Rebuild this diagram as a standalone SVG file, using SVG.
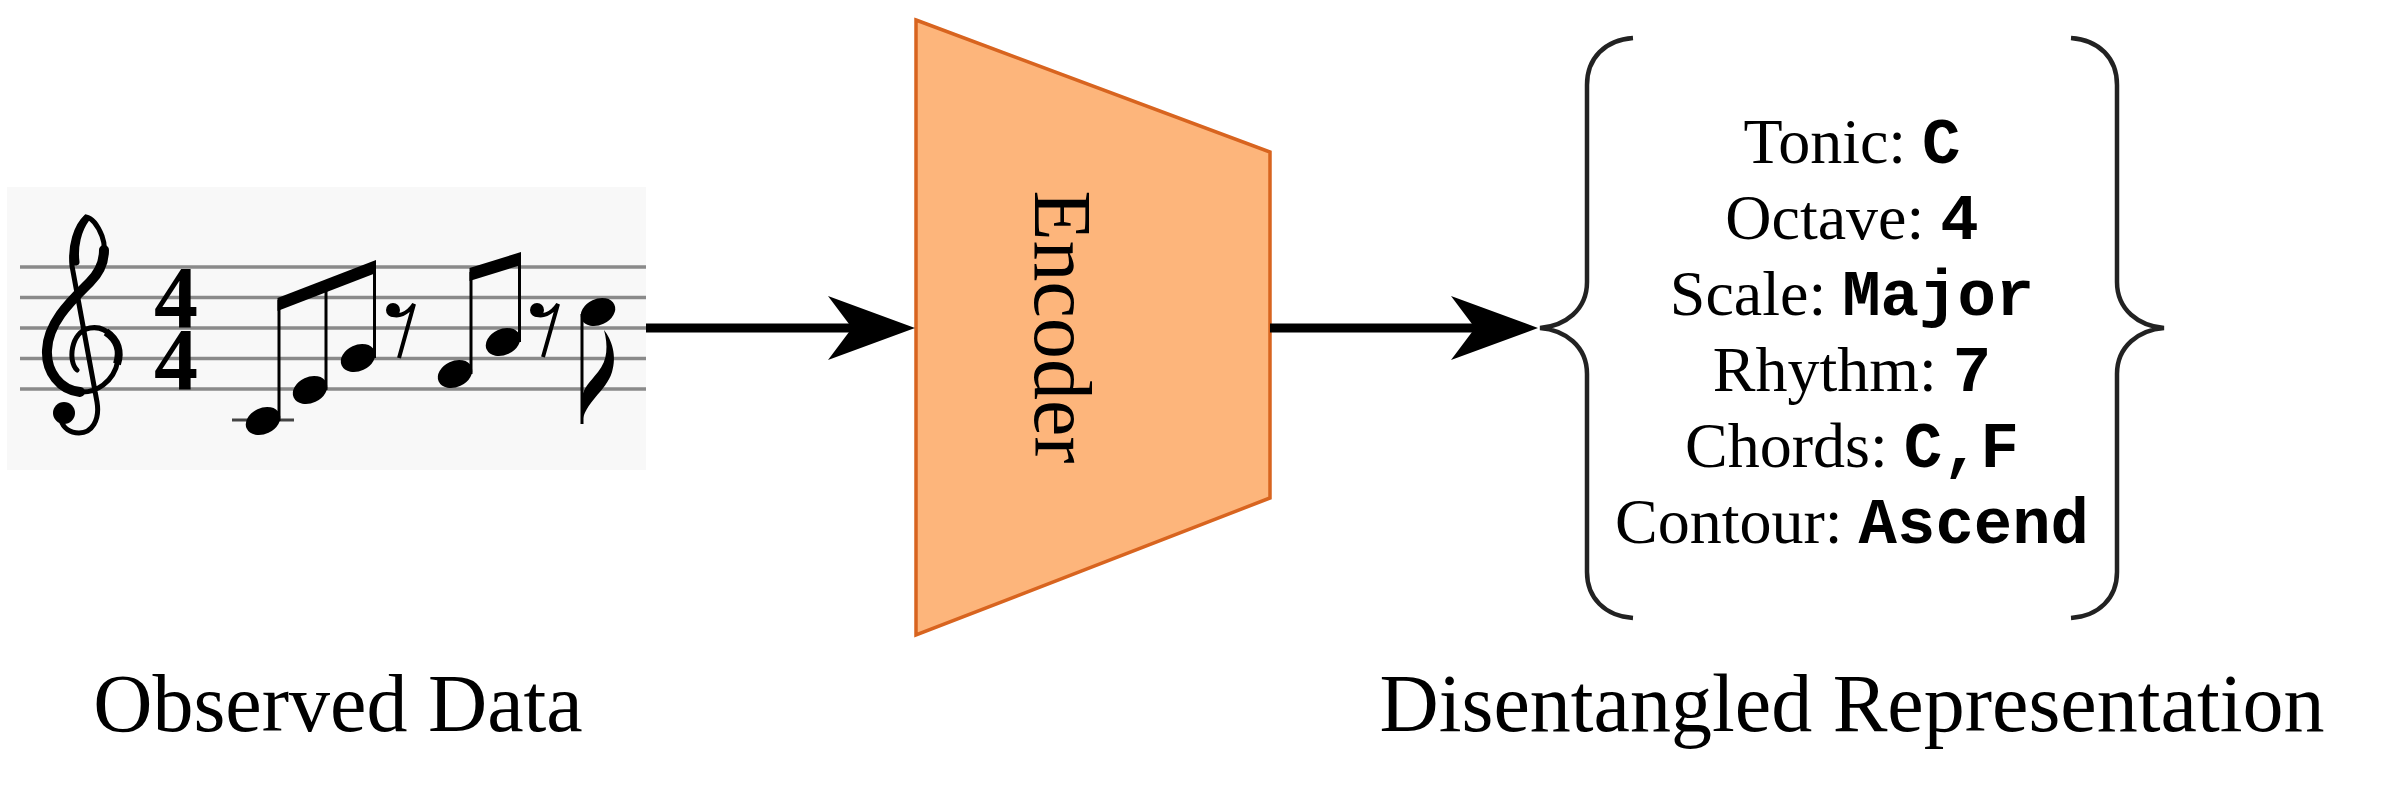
<svg xmlns="http://www.w3.org/2000/svg" width="2382" height="786" viewBox="0 0 2382 786">
<style>
.serif{font-family:"Liberation Serif","Times New Roman",serif;fill:#000}
.mono{font-family:"Liberation Mono","Courier New",monospace;font-weight:bold;fill:#000}
.staff{stroke:#8a8a8a;stroke-width:3.5}
.stem{stroke:#000;stroke-width:3}
.conn{stroke:#000;stroke-width:9;fill:none}
.brace{stroke:#222;stroke-width:4.5;fill:none}
</style>
<defs>
<ellipse id="head" cx="0" cy="0" rx="18" ry="13" transform="rotate(-25)" fill="#000"/>
</defs>
<rect width="2382" height="786" fill="#fff"/>

<g id="observed-data">
<rect x="7" y="187" width="639" height="283" fill="#f8f8f8"/>
<g class="staff">
<line x1="20" y1="267" x2="646" y2="267"/>
<line x1="20" y1="297.5" x2="646" y2="297.5"/>
<line x1="20" y1="328" x2="646" y2="328"/>
<line x1="20" y1="358.5" x2="646" y2="358.5"/>
<line x1="20" y1="389" x2="646" y2="389"/>
</g>
<!-- treble clef -->
<path d="M77 370 C68 362,70 332,90 328 C108 325,121 343,118 360 C114 383,95 393,80 392 C60 390,46 372,47 350 C48 322,72 300,90 282 C102 270,108 252,102 236 C98 226,92 218,86 217 C76 226,70 246,72 266 L97 402 C100 420,92 433,79 433 C70 433,63 428,61 420" fill="none" stroke="#000" stroke-width="5" stroke-linecap="round"/>
<path d="M80 392 C60 390,46 372,47 350 C48 322,72 300,90 282 C100 272,104 262,104 250" fill="none" stroke="#000" stroke-width="10" stroke-linecap="round"/>
<path d="M76 262 C74 246,78 230,86 219" fill="none" stroke="#000" stroke-width="7" stroke-linecap="round"/>
<path d="M106 332 C118 340,121 352,117 364" fill="none" stroke="#000" stroke-width="8"/>
<circle cx="64" cy="413" r="11" fill="#000"/>
<!-- time signature -->
<text class="serif" x="176" font-size="88" font-weight="bold" text-anchor="middle"><tspan x="176" y="327">4</tspan><tspan x="176" y="389">4</tspan></text>
<!-- group 1 -->
<line x1="232" y1="420" x2="294" y2="420" stroke="#444" stroke-width="3"/>
<use href="#head" x="263" y="421"/>
<use href="#head" x="310" y="390"/>
<use href="#head" x="358" y="358"/>
<line class="stem" x1="279" y1="421" x2="279" y2="300"/>
<line class="stem" x1="326" y1="390" x2="326" y2="285"/>
<line class="stem" x1="374.5" y1="358" x2="374.5" y2="265"/>
<polygon points="277.5,298 376,260 376,273 277.5,311" fill="#000"/>
<circle cx="393" cy="310" r="7" fill="#000"/>
<path d="M389 313 C398 319,408 313,414 304 L399 358" fill="none" stroke="#000" stroke-width="4"/>
<!-- group 2 -->
<use href="#head" x="455" y="374"/>
<use href="#head" x="503" y="342"/>
<line class="stem" x1="471" y1="374" x2="471" y2="272"/>
<line class="stem" x1="519.5" y1="342" x2="519.5" y2="256"/>
<polygon points="469.5,268 521,252 521,265 469.5,281" fill="#000"/>
<circle cx="537" cy="310" r="7" fill="#000"/>
<path d="M533 313 C542 319,552 313,558 304 L543 357" fill="none" stroke="#000" stroke-width="4"/>
<!-- C5 eighth -->
<use href="#head" x="598" y="312"/>
<line class="stem" x1="582" y1="314" x2="582" y2="424"/>
<path d="M582 424 C584 402,606 392,612 372 C617 356,612 340,604 330 C608 345,608 360,598 372 C590 382,583 388,582 398 Z" fill="#000"/>
<text class="serif" x="338" y="731" font-size="82" text-anchor="middle">Observed Data</text>
</g>

<g id="encoder">
<polygon points="916,20 1270,152 1270,498 916,635" fill="#fdb57b" stroke="#d8641f" stroke-width="3.5"/>
<text class="serif" font-size="82" text-anchor="middle" transform="translate(1035,327) rotate(90)">Encoder</text>
</g>

<g id="representation">
<path class="brace" d="M1633 38 C1605 40,1587 58,1587 85 L1587 282 C1587 310,1565 326,1540 328 C1565 330,1587 346,1587 374 L1587 572 C1587 598,1605 616,1633 618"/>
<path class="brace" d="M2071 38 C2099 40,2117 58,2117 85 L2117 282 C2117 310,2139 326,2164 328 C2139 330,2117 346,2117 374 L2117 572 C2117 598,2099 616,2071 618"/>
<g font-size="64" text-anchor="middle">
<text class="serif" x="1852" y="163">Tonic: <tspan class="mono">C</tspan></text>
<text class="serif" x="1852" y="239">Octave: <tspan class="mono">4</tspan></text>
<text class="serif" x="1852" y="315">Scale: <tspan class="mono">Major</tspan></text>
<text class="serif" x="1852" y="391">Rhythm: <tspan class="mono">7</tspan></text>
<text class="serif" x="1852" y="467">Chords: <tspan class="mono">C,F</tspan></text>
<text class="serif" x="1852" y="543">Contour: <tspan class="mono">Ascend</tspan></text>
</g>
<text class="serif" x="1852" y="731" font-size="82" text-anchor="middle">Disentangled Representation</text>
</g>

<g id="connectors">
<line class="conn" x1="646" y1="328" x2="856" y2="328"/>
<polygon points="915,328 828,296 852,328 828,360" fill="#000"/>
<line class="conn" x1="1270" y1="328" x2="1479" y2="328"/>
<polygon points="1538,328 1451,296 1475,328 1451,360" fill="#000"/>
</g>
</svg>
